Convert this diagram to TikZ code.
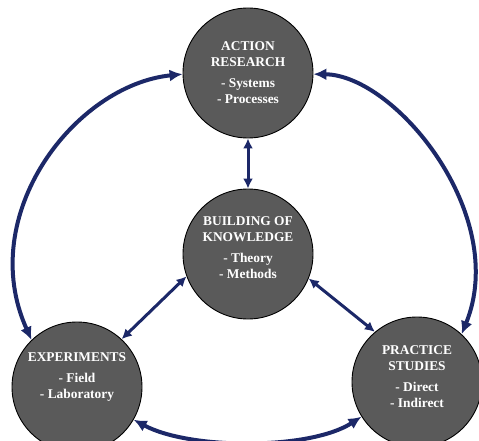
\documentclass[tikz,border=0pt]{standalone}
\usepackage{fontspec}
\setmainfont{Liberation Serif}
\usetikzlibrary{arrows.meta}
\definecolor{navy}{HTML}{1C2868}
\definecolor{disc}{HTML}{5A5A5A}
\tikzset{
  circ/.style={circle, draw=black, line width=0.9pt, fill=disc, minimum size=130pt, inner sep=0pt},
  txt/.style={text=white, font=\fontsize{13.4}{16}\selectfont\bfseries, align=center, inner sep=0pt},
  bigarrow/.style={draw=navy, line width=4pt, {Latex[length=13pt,width=12pt]}-{Latex[length=13pt,width=12pt]}},
  smallarrow/.style={draw=navy, line width=3pt, {Latex[length=10pt,width=10pt]}-{Latex[length=10pt,width=10pt]}}
}
\begin{document}
\begin{tikzpicture}[x=1pt,y=-1pt]
\useasboundingbox (0,0) rectangle (479,441);
\node[circ] (top) at (248,73) {};
\node[circ] (mid) at (248,254) {};
\node[circ] (exp) at (77,387) {};
\node[circ] (prac) at (417,382) {};
\node[txt] (topt) at (248,73) {ACTION\\RESEARCH\\[5pt]- Systems\\- Processes};
\node[txt] (midt) at (248,248) {BUILDING OF\\KNOWLEDGE\\[5pt]- Theory\\- Methods};
\node[txt] (expt) at (77,377) {EXPERIMENTS\\[5pt]- Field\\- Laboratory};
\node[txt] (pract) at (417,377) {PRACTICE\\STUDIES\\[5pt]- Direct\\- Indirect};
% straight arrows
\draw[smallarrow] (top.south) -- (mid.north);
\draw[smallarrow] (mid.200) -- (exp.47);
\draw[smallarrow] (mid.-22) -- (prac.130);
% curved arrows
\draw[bigarrow] (exp.134) .. controls (-25,215) and (75,85) .. (top.181);
\draw[bigarrow] (prac.47) .. controls (510,215) and (395,75) .. (top.-1);
\draw[bigarrow] (exp.-30) .. controls (190,450) and (310,450) .. (prac.212);
\end{tikzpicture}
\end{document}
